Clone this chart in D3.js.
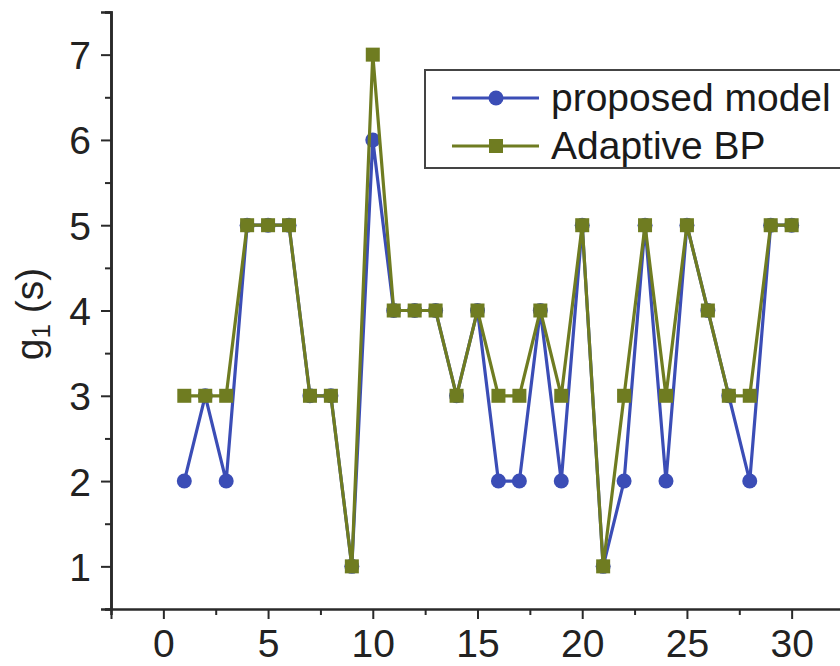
<!DOCTYPE html>
<html>
<head>
<meta charset="utf-8">
<script src="https://cdn.jsdelivr.net/npm/d3@7"></script>
<style>
  html, body { margin: 0; padding: 0; background: #fff; }
  svg { display: block; font-family: "Liberation Sans", Arial, sans-serif; }
</style>
</head>
<body>
<svg id="chart" width="840" height="666"></svg>
<script>
// Sample index along the x axis
const samples = d3.range(1, 31);
// g1 values (s) for each method
const proposedModel = [2, 3, 2, 5, 5, 5, 3, 3, 1, 6, 4, 4, 4, 3, 4, 2, 2, 4, 2, 5, 1, 2, 5, 2, 5, 4, 3, 2, 5, 5];
const adaptiveBP    = [3, 3, 3, 5, 5, 5, 3, 3, 1, 7, 4, 4, 4, 3, 4, 3, 3, 4, 3, 5, 1, 3, 5, 3, 5, 4, 3, 3, 5, 5];
const seriesNames = ["proposed model", "Adaptive BP"];
const xTicks = [0, 5, 10, 15, 20, 25, 30];
const yTicks = [1, 2, 3, 4, 5, 6, 7];

const blue = "#3b4db6";
const olive = "#6f7c21";
const axisColor = "#2a2a2a";

const svg = d3.select("#chart");
const plotLeft = 111, plotRight = 844, plotTop = 12, plotBottom = 609;

const x = d3.scaleLinear().domain([-2.5, 32.5]).range([plotLeft, plotRight]);
const y = d3.scaleLinear().domain([0.5, 7.5]).range([plotBottom, plotTop]);

const fontSize = 39;

// X axis: major ticks with labels, minor ticks between
const xMinor = d3.range(-2.5, 33, 5);
const xAxisG = svg.append("g").attr("transform", `translate(0,${plotBottom})`);
xAxisG.call(d3.axisBottom(x).tickValues(xTicks).tickSize(10).tickPadding(10).tickFormat(d3.format("d")));
xAxisG.append("g").call(d3.axisBottom(x).tickValues(xMinor).tickSize(6).tickFormat(""));
xAxisG.selectAll(".domain").attr("stroke", axisColor).attr("stroke-width", 2);
xAxisG.selectAll("line").attr("stroke", axisColor).attr("stroke-width", 2);
xAxisG.selectAll("text").attr("font-size", fontSize).attr("fill", "#222")
  .attr("font-family", "'Liberation Sans', Arial, sans-serif");

// Y axis
const yMinor = d3.range(0.5, 8, 1);
const yAxisG = svg.append("g").attr("transform", `translate(${plotLeft},0)`);
yAxisG.call(d3.axisLeft(y).tickValues(yTicks).tickSize(10).tickPadding(10).tickFormat(d3.format("d")));
yAxisG.append("g").call(d3.axisLeft(y).tickValues(yMinor).tickSize(6).tickFormat(""));
yAxisG.selectAll(".domain").attr("stroke", axisColor).attr("stroke-width", 2.6);
yAxisG.selectAll("line").attr("stroke", axisColor).attr("stroke-width", 2);
yAxisG.selectAll("text").attr("font-size", fontSize).attr("fill", "#222")
  .attr("dy", "0.36em")
  .attr("font-family", "'Liberation Sans', Arial, sans-serif");

// Y axis title: g1 (s)
const yTitle = svg.append("text")
  .attr("transform", `translate(43,314) rotate(-90)`)
  .attr("text-anchor", "middle")
  .attr("font-size", fontSize)
  .attr("fill", "#222");
yTitle.append("tspan").text("g");
yTitle.append("tspan").attr("font-size", 26).attr("dy", 7).text("1");
yTitle.append("tspan").attr("dy", -7).text(" (s)");

// Series
const line = d3.line().x((d, i) => x(samples[i])).y(d => y(d));

svg.append("path").datum(proposedModel)
  .attr("d", line).attr("fill", "none").attr("stroke", blue).attr("stroke-width", 3.2);
svg.append("g").selectAll("circle").data(proposedModel).join("circle")
  .attr("cx", (d, i) => x(samples[i])).attr("cy", d => y(d)).attr("r", 7.5).attr("fill", blue);

svg.append("path").datum(adaptiveBP)
  .attr("d", line).attr("fill", "none").attr("stroke", olive).attr("stroke-width", 3.2);
const sq = 14;
svg.append("g").selectAll("rect").data(adaptiveBP).join("rect")
  .attr("x", (d, i) => x(samples[i]) - sq / 2).attr("y", d => y(d) - sq / 2)
  .attr("width", sq).attr("height", sq).attr("fill", olive);

// Legend
const legend = svg.append("g");
legend.append("rect").attr("x", 425).attr("y", 70).attr("width", 430).attr("height", 98)
  .attr("fill", "#fff").attr("stroke", "#444").attr("stroke-width", 2);

const rows = [
  { name: seriesNames[0], color: blue, shape: "circle", y: 98 },
  { name: seriesNames[1], color: olive, shape: "square", y: 146 }
];
rows.forEach(r => {
  legend.append("line").attr("x1", 452).attr("x2", 539).attr("y1", r.y).attr("y2", r.y)
    .attr("stroke", r.color).attr("stroke-width", 3.2);
  if (r.shape === "circle") {
    legend.append("circle").attr("cx", 496).attr("cy", r.y).attr("r", 7.5).attr("fill", r.color);
  } else {
    legend.append("rect").attr("x", 496 - sq / 2).attr("y", r.y - sq / 2)
      .attr("width", sq).attr("height", sq).attr("fill", r.color);
  }
  legend.append("text").attr("x", 551).attr("y", r.y + 13)
    .attr("font-size", fontSize).attr("fill", "#1a1a1a").text(r.name);
});
</script>
</body>
</html>
